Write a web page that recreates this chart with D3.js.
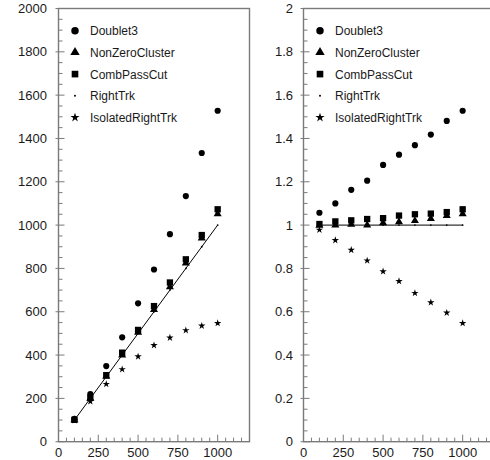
<!DOCTYPE html>
<html>
<head>
<meta charset="utf-8">
<script src="https://cdn.jsdelivr.net/npm/d3@7"></script>
<style>
  body { margin: 0; background: #fff; }
  text { font-family: "Liberation Sans", Arial, sans-serif; fill: #1a1a1a; }
</style>
</head>
<body>
<div id="chart"></div>
<script>
// x points (same for every series)
const xValues = [100, 200, 300, 400, 500, 600, 700, 800, 900, 1000];

// left panel: counts
const doublet3 = [106, 220, 349, 482, 639, 795, 958, 1134, 1333, 1528];
const nonZeroCluster = [100, 200, 301, 400, 505, 609, 714, 824, 940, 1052];
const combPassCut = [101, 203, 307, 411, 516, 626, 735, 842, 954, 1073];
const rightTrk = [100, 200, 300, 400, 500, 600, 700, 800, 900, 1000];
const isolatedRightTrk = [98, 186, 266, 334, 393, 445, 480, 514, 535, 547];

// right panel: ratio to RightTrk
const doublet3Ratio = [1.057, 1.10, 1.163, 1.205, 1.278, 1.325, 1.369, 1.418, 1.481, 1.528];
const nonZeroClusterRatio = [0.998, 1.0, 1.003, 1.0, 1.01, 1.015, 1.02, 1.03, 1.044, 1.052];
const combPassCutRatio = [1.005, 1.017, 1.022, 1.028, 1.032, 1.044, 1.05, 1.053, 1.06, 1.073];
const rightTrkRatio = [1, 1, 1, 1, 1, 1, 1, 1, 1, 1];
const isolatedRightTrkRatio = [0.978, 0.93, 0.885, 0.836, 0.786, 0.741, 0.686, 0.643, 0.595, 0.547];

const legendNames = ['Doublet3', 'NonZeroCluster', 'CombPassCut', 'RightTrk', 'IsolatedRightTrk'];
const leftYTicks = [0, 200, 400, 600, 800, 1000, 1200, 1400, 1600, 1800, 2000];
const rightYTicks = [0, 0.2, 0.4, 0.6, 0.8, 1, 1.2, 1.4, 1.6, 1.8, 2];
const xTickLabels = [0, 250, 500, 750, 1000];

const width = 490, height = 460;
const axisColor = '#7a7a7a';

const svg = d3.select('#chart')
  .append('svg')
  .attr('width', width)
  .attr('height', height);

const symbolFor = {
  Doublet3: d3.symbolCircle,
  NonZeroCluster: d3.symbolTriangle,
  CombPassCut: d3.symbolSquare,
  RightTrk: d3.symbolCircle,
  IsolatedRightTrk: d3.symbolStar
};
const dataSize = { Doublet3: 30, NonZeroCluster: 28, CombPassCut: 40, RightTrk: 2.5, IsolatedRightTrk: 17 };
const legendSize = { Doublet3: 44, NonZeroCluster: 38, CombPassCut: 44, RightTrk: 3, IsolatedRightTrk: 26 };

function drawPanel(opts) {
  const x = d3.scaleLinear().domain([0, 1200]).range([opts.left, opts.left + 191]);
  const y = d3.scaleLinear().domain([0, opts.yMax]).range([441.7, 8.5]);
  const g = svg.append('g');

  // frame
  g.append('rect')
    .attr('x', x(0)).attr('y', y(opts.yMax))
    .attr('width', x(1200) - x(0)).attr('height', y(0) - y(opts.yMax))
    .attr('fill', 'none').attr('stroke', axisColor).attr('stroke-width', 1.4);

  // y ticks
  const yMinor = d3.range(0, opts.yMax + 1e-9, opts.yMax / 40);
  g.selectAll('.ytick')
    .data(yMinor)
    .enter().append('line')
    .attr('x1', (d, i) => i % 4 === 0 ? x(0) - 3 : x(0))
    .attr('x2', (d, i) => i % 4 === 0 ? x(0) + 6 : x(0) + 4)
    .attr('y1', d => y(d)).attr('y2', d => y(d))
    .attr('stroke', axisColor).attr('stroke-width', 1);

  g.selectAll('.ylab')
    .data(opts.yTicks)
    .enter().append('text')
    .attr('x', opts.labelRight)
    .attr('y', d => y(d) + 4.5)
    .attr('text-anchor', 'end')
    .attr('font-size', 13)
    .text(d => String(+d.toFixed(1)));

  // x ticks
  const xMinor = d3.range(0, 1201, 50);
  g.selectAll('.xtick')
    .data(xMinor)
    .enter().append('line')
    .attr('x1', d => x(d)).attr('x2', d => x(d))
    .attr('y1', y(0))
    .attr('y2', d => d % 250 === 0 ? y(0) - 7 : y(0) - 4)
    .attr('stroke', axisColor).attr('stroke-width', 1);

  g.selectAll('.xlab')
    .data(xTickLabels)
    .enter().append('text')
    .attr('x', d => x(d))
    .attr('y', 457)
    .attr('text-anchor', 'middle')
    .attr('font-size', 13)
    .text(d => d);

  // reference line (RightTrk)
  const line = d3.line().x(d => x(d[0])).y(d => y(d[1]));
  g.append('path')
    .datum(xValues.map((v, i) => [v, opts.series.RightTrk[i]]))
    .attr('d', line)
    .attr('fill', 'none').attr('stroke', '#000').attr('stroke-width', 1);

  // markers
  legendNames.forEach(name => {
    const vals = opts.series[name];
    g.selectAll(null)
      .data(xValues.map((v, i) => [v, vals[i]]))
      .enter().append('path')
      .attr('transform', d => `translate(${x(d[0])},${y(d[1])})`)
      .attr('d', d3.symbol().type(symbolFor[name]).size(dataSize[name]))
      .attr('fill', '#000');
  });

  // legend
  const leg = g.selectAll('.leg')
    .data(legendNames)
    .enter().append('g')
    .attr('transform', (d, i) => `translate(${opts.left + 16.5},${30.7 + i * 21.7})`);
  leg.append('path')
    .attr('d', d => d3.symbol().type(symbolFor[d]).size(legendSize[d])())
    .attr('fill', '#000');
  leg.append('text')
    .attr('x', 15)
    .attr('y', 4.5)
    .attr('font-size', 12)
    .text(d => d);
}

drawPanel({
  left: 58.5,
  yMax: 2000,
  yTicks: leftYTicks,
  labelRight: 47,
  series: {
    Doublet3: doublet3,
    NonZeroCluster: nonZeroCluster,
    CombPassCut: combPassCut,
    RightTrk: rightTrk,
    IsolatedRightTrk: isolatedRightTrk
  }
});

drawPanel({
  left: 303.5,
  yMax: 2,
  yTicks: rightYTicks,
  labelRight: 293,
  series: {
    Doublet3: doublet3Ratio,
    NonZeroCluster: nonZeroClusterRatio,
    CombPassCut: combPassCutRatio,
    RightTrk: rightTrkRatio,
    IsolatedRightTrk: isolatedRightTrkRatio
  }
});
</script>
</body>
</html>
